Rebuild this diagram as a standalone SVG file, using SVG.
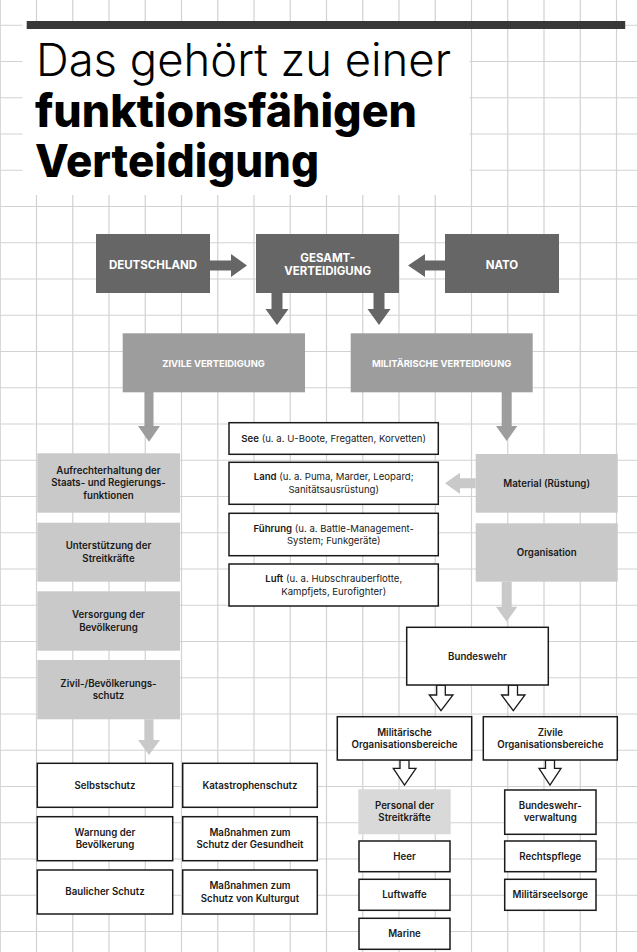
<svg xmlns="http://www.w3.org/2000/svg" width="637" height="952" viewBox="0 0 637 952">
<defs>
<style>
.grid{fill:none;stroke:#d2d2d2;stroke-width:1.2}
.dark{fill:#666666}
.mid{fill:#9d9d9d}
.light{fill:#c9c9c9}
.pale{fill:#d9d9d9}
.wbox{fill:#ffffff;stroke:#1a1a1a;stroke-width:1.5}
.cap{font-family:Inter,"Liberation Sans",sans-serif;font-weight:700;fill:#ffffff;text-anchor:middle}
.c1{font-size:11.5px}
.c2{font-size:9.4px}
.t{font-family:Inter,"Liberation Sans",sans-serif;font-size:9.7px;font-weight:600;fill:#1a1a1a;text-anchor:middle}
.r{font-family:Inter,"Liberation Sans",sans-serif;font-size:9.6px;font-weight:400;fill:#1a1a1a;text-anchor:middle}
.r tspan.b{font-weight:600}
.hollow{fill:#ffffff;stroke:#1a1a1a;stroke-width:1.3;stroke-linejoin:miter}
.title{font-family:Inter,"Liberation Sans",sans-serif;font-size:45px;fill:#000000}
</style>
</defs>
<rect x="0" y="0" width="637" height="952" fill="#ffffff"/>
<path class="grid" d="M0.25 0V952M36.5 0V952M72.75 0V952M109 0V952M145.25 0V952M181.5 0V952M217.75 0V952M254 0V952M290.25 0V952M326.5 0V952M362.75 0V952M399 0V952M435.25 0V952M471.5 0V952M507.75 0V952M544 0V952M580.25 0V952M616.5 0V952M0 25.25H637M0 61.5H637M0 97.75H637M0 134H637M0 170.25H637M0 206.5H637M0 242.75H637M0 279H637M0 315.25H637M0 351.5H637M0 387.75H637M0 424H637M0 460.25H637M0 496.5H637M0 532.75H637M0 569H637M0 605.25H637M0 641.5H637M0 677.75H637M0 714H637M0 750.25H637M0 786.5H637M0 822.75H637M0 859H637M0 895.25H637M0 931.5H637"/>

<g id="title">
<rect x="22.5" y="21" width="447" height="174" fill="#ffffff"/>
<rect x="26.7" y="21" width="598.5" height="8" fill="#383838"/>
<text class="title" x="36" y="76" font-weight="300" textLength="415" lengthAdjust="spacingAndGlyphs">Das gehört zu einer</text>
<text class="title" x="35" y="126.7" font-weight="800" textLength="382" lengthAdjust="spacingAndGlyphs">funktionsfähigen</text>
<text class="title" x="35" y="176.7" font-weight="800" textLength="284" lengthAdjust="spacingAndGlyphs">Verteidigung</text>
</g>

<g id="connectors">
<polygon class="dark" points="210,260.5 231,260.5 231,254 247,265.5 231,277 231,270.5 210,270.5"/>
<polygon class="dark" points="445,260.5 425,260.5 425,254 408,265.5 425,277 425,270.5 445,270.5"/>
<polygon class="dark" points="271.5,293 282.5,293 282.5,309 288.5,309 277,325 265.5,309 271.5,309"/>
<polygon class="dark" points="373.5,293 384.5,293 384.5,309 390.5,309 379,325 367.5,309 373.5,309"/>
<polygon class="mid" points="144.5,392 153.5,392 153.5,426 160,426 149,441.7 138,426 144.5,426"/>
<polygon class="mid" points="501.7,392 511.7,392 511.7,426 517.3,426 506.7,441 496,426 501.7,426"/>
<polygon class="light" points="475.7,478.3 460,478.3 460,472.7 445,483.3 460,494 460,488.3 475.7,488.3"/>
<polygon class="light" points="501.7,581.7 511.7,581.7 511.7,606.7 517.3,606.7 506.7,621.7 496,606.7 501.7,606.7"/>
<polygon class="light" points="144.5,719.3 153.5,719.3 153.5,740 160,740 149,755 138,740 144.5,740"/>
<polygon class="hollow" points="436.7,685 436.7,695 429.3,695 441,710.7 453,695 445.3,695 445.3,685"/>
<polygon class="hollow" points="508.5,685 508.5,695 501.5,695 513.3,710.7 525,695 517.5,695 517.5,685"/>
<polygon class="hollow" points="400,760 400,768.3 393.3,768.3 404.5,785 416,768.3 409,768.3 409,760"/>
<polygon class="hollow" points="545.5,760 545.5,768.3 539,768.3 550,785 561,768.3 554.5,768.3 554.5,760"/>
</g>

<g id="deutschland"><rect class="dark" x="96" y="234" width="114" height="59"/><text class="cap c1" x="153" y="269">DEUTSCHLAND</text></g>
<g id="gesamt"><rect class="dark" x="256" y="234" width="143" height="59"/><text class="cap c1" x="327.7" y="261.8">GESAMT-</text><text class="cap c1" x="327.7" y="274.8">VERTEIDIGUNG</text></g>
<g id="nato"><rect class="dark" x="445" y="234" width="114" height="59"/><text class="cap c1" x="502" y="269">NATO</text></g>
<g id="zivile-verteidigung"><rect class="mid" x="122.7" y="333.3" width="182.3" height="59"/><text class="cap c2" x="213.5" y="366.6">ZIVILE VERTEIDIGUNG</text></g>
<g id="militaerische-verteidigung"><rect class="mid" x="350.7" y="333.3" width="182" height="59"/><text class="cap c2" x="441.7" y="366.6">MILITÄRISCHE VERTEIDIGUNG</text></g>

<g id="aufrechterhaltung"><rect class="light" x="37.3" y="453.3" width="142.7" height="59.4"/><text class="t" x="108.5" y="473.9">Aufrechterhaltung der</text><text class="t" x="108.5" y="486.4">Staats- und Regierungs-</text><text class="t" x="108.5" y="498.9">funktionen</text></g>
<g id="unterstuetzung"><rect class="light" x="37.3" y="522.7" width="142.7" height="59"/><text class="t" x="108.5" y="549.4">Unterstützung der</text><text class="t" x="108.5" y="561.9">Streitkräfte</text></g>
<g id="versorgung"><rect class="light" x="37.3" y="591.3" width="142.7" height="59.4"/><text class="t" x="108.5" y="618.1">Versorgung der</text><text class="t" x="108.5" y="630.6">Bevölkerung</text></g>
<g id="zivilschutz"><rect class="light" x="37.3" y="660" width="142.7" height="59.3"/><text class="t" x="108.5" y="686.8">Zivil-/Bevölkerungs-</text><text class="t" x="108.5" y="699.3">schutz</text></g>

<g id="see"><rect class="wbox" x="229" y="422.7" width="209.3" height="31.6"/><text class="r" x="333.7" y="442.3"><tspan class="b">See</tspan> (u. a. U-Boote, Fregatten, Korvetten)</text></g>
<g id="land"><rect class="wbox" x="229" y="462.3" width="209.3" height="42"/><text class="r" x="333.7" y="480.4"><tspan class="b">Land</tspan> (u. a. Puma, Marder, Leopard;</text><text class="r" x="333.7" y="492.9">Sanitätsausrüstung)</text></g>
<g id="fuehrung"><rect class="wbox" x="229" y="513.3" width="209.3" height="42.4"/><text class="r" x="333.7" y="531.6"><tspan class="b">Führung</tspan> (u. a. Battle-Management-</text><text class="r" x="333.7" y="544.1">System; Funkgeräte)</text></g>
<g id="luft"><rect class="wbox" x="229" y="564" width="209.3" height="42"/><text class="r" x="333.7" y="582.1"><tspan class="b">Luft</tspan> (u. a. Hubschrauberflotte,</text><text class="r" x="333.7" y="594.6">Kampfjets, Eurofighter)</text></g>

<g id="material"><rect class="light" x="475.7" y="454" width="142" height="58.7"/><text class="t" x="546.7" y="486.7">Material (Rüstung)</text></g>
<g id="organisation"><rect class="light" x="475.7" y="523.3" width="142" height="58.4"/><text class="t" x="546.7" y="556">Organisation</text></g>

<g id="bundeswehr"><rect class="wbox" x="406.7" y="627.3" width="141.6" height="57.7"/><text class="t" x="477.5" y="659.5">Bundeswehr</text></g>
<g id="mil-org"><rect class="wbox" x="337.3" y="716.7" width="134.4" height="43.3"/><text class="t" x="404.5" y="735.5">Militärische</text><text class="t" x="404.5" y="748">Organisationsbereiche</text></g>
<g id="ziv-org"><rect class="wbox" x="483.3" y="716.7" width="134" height="43.3"/><text class="t" x="550.3" y="735.5">Zivile</text><text class="t" x="550.3" y="748">Organisationsbereiche</text></g>

<g id="personal"><rect class="pale" x="358.3" y="789.3" width="92.4" height="45"/><text class="t" x="404.5" y="808.9">Personal der</text><text class="t" x="404.5" y="821.4">Streitkräfte</text></g>
<g id="heer"><rect class="wbox" x="359" y="841" width="91" height="30.7"/><text class="t" x="404.5" y="859.7">Heer</text></g>
<g id="luftwaffe"><rect class="wbox" x="359" y="879.3" width="91" height="31"/><text class="t" x="404.5" y="898.2">Luftwaffe</text></g>
<g id="marine"><rect class="wbox" x="359" y="918.3" width="91" height="31"/><text class="t" x="404.5" y="937.2">Marine</text></g>
<g id="bw-verwaltung"><rect class="wbox" x="504.7" y="790" width="91.3" height="44.3"/><text class="t" x="550.3" y="808.9">Bundeswehr-</text><text class="t" x="550.3" y="821.4">verwaltung</text></g>
<g id="rechtspflege"><rect class="wbox" x="504.7" y="841" width="91.3" height="30.7"/><text class="t" x="550.3" y="859.7">Rechtspflege</text></g>
<g id="militaerseelsorge"><rect class="wbox" x="504.7" y="879.3" width="91.3" height="31"/><text class="t" x="550.3" y="898.2">Militärseelsorge</text></g>

<g id="selbstschutz"><rect class="wbox" x="37.3" y="763.3" width="135.4" height="44"/><text class="t" x="105" y="788.7">Selbstschutz</text></g>
<g id="katastrophenschutz"><rect class="wbox" x="182.7" y="763.3" width="134.6" height="44"/><text class="t" x="250" y="788.7">Katastrophenschutz</text></g>
<g id="warnung"><rect class="wbox" x="37.3" y="816.7" width="135.4" height="44"/><text class="t" x="105" y="835.9">Warnung der</text><text class="t" x="105" y="848.4">Bevölkerung</text></g>
<g id="gesundheit"><rect class="wbox" x="182.7" y="816.7" width="134.6" height="44"/><text class="t" x="250" y="835.9">Maßnahmen zum</text><text class="t" x="250" y="848.4">Schutz der Gesundheit</text></g>
<g id="baulich"><rect class="wbox" x="37.3" y="870" width="135.4" height="44"/><text class="t" x="105" y="895.4">Baulicher Schutz</text></g>
<g id="kulturgut"><rect class="wbox" x="182.7" y="870" width="134.6" height="44"/><text class="t" x="250" y="889.2">Maßnahmen zum</text><text class="t" x="250" y="901.7">Schutz von Kulturgut</text></g>
</svg>
